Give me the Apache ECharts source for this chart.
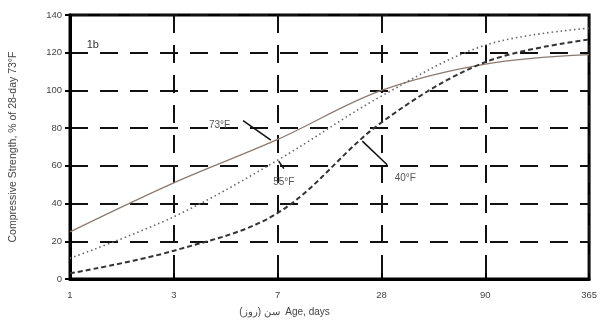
<!DOCTYPE html>
<html>
<head>
<meta charset="utf-8">
<script src="https://cdn.jsdelivr.net/npm/echarts@6/dist/echarts.min.js"></script>
<style>
  html, body { margin: 0; padding: 0; background: #fff; }
  #chart { width: 600px; height: 322px; }
</style>
</head>
<body>
<div id="chart"></div>
<script>
// Age at test (days), shown at evenly spaced positions
const ageTicks = ['1', '3', '7', '28', '90', '365'];
const agePos = [0, 1, 2, 3, 4, 5];

// Compressive strength, % of 28-day strength cured at 73°F
const strength73F = [25, 51, 74, 100, 114, 119];
const strength55F = [11, 33, 63, 97, 124, 133];
const strength40F = [3, 15, 35, 83, 115, 127];

const yTicks = [0, 20, 40, 60, 80, 100, 120, 140];

const pairs = vals => vals.map((v, i) => [agePos[i], v]);

const chart = echarts.init(document.getElementById('chart'), null, { renderer: 'canvas' });
const font = 'Liberation Sans, Arial, sans-serif';
const dashGrid = { color: '#111', width: 2, type: [18, 12] };

chart.setOption({
  animation: false,
  backgroundColor: '#fff',
  grid: { left: 68, right: 10, top: 15, bottom: 39, show: true, borderColor: '#000', borderWidth: 3 },
  xAxis: {
    type: 'value', min: 0, max: 5, interval: 1,
    name: 'سن (روز)  Age, days', nameLocation: 'middle', nameGap: 28,
    nameTextStyle: { fontFamily: font, fontSize: 10, color: '#444', padding: [0, 90, 0, 0] },
    axisLine: { show: true, lineStyle: { color: '#000', width: 3 } },
    axisTick: { show: true, inside: true, length: 6, lineStyle: { color: '#000', width: 2 } },
    axisLabel: { fontFamily: font, fontSize: 9.5, color: '#444', margin: 11,
      formatter: v => ageTicks[agePos.indexOf(v)] ?? '' },
    splitLine: { show: true, lineStyle: dashGrid }
  },
  yAxis: {
    type: 'value', min: 0, max: 140, interval: 20,
    name: 'Compressive Strength, % of 28-day 73°F', nameLocation: 'middle', nameGap: 51,
    nameRotate: 90,
    nameTextStyle: { fontFamily: font, fontSize: 10.5, color: '#444' },
    axisLine: { show: true, lineStyle: { color: '#000', width: 3 } },
    axisTick: { show: true, length: 5, lineStyle: { color: '#000', width: 2 } },
    axisLabel: { fontFamily: font, fontSize: 9.5, color: '#444', margin: 8,
      formatter: v => yTicks.includes(v) ? String(v) : '' },
    splitLine: { show: true, lineStyle: dashGrid }
  },
  series: [
    {
      name: '73°F', type: 'line', data: pairs(strength73F), smooth: 0.35,
      symbol: 'none', lineStyle: { color: '#8a7a72', width: 1.3, type: 'solid' },
      markPoint: {
        symbol: 'circle', symbolSize: 0,
        label: { show: true, position: 'inside', fontFamily: font, fontSize: 10, color: '#555' },
        data: [
          { coord: [1.44, 81.5], value: '73°F' },
          { coord: [0.22, 124], value: '1b', label: { fontSize: 11, color: '#333' } }
        ]
      },
      markLine: {
        silent: true, symbol: 'none', label: { show: false },
        lineStyle: { color: '#111', width: 1.5, type: 'solid' },
        data: [[{ coord: [1.667, 84] }, { coord: [1.935, 73.7] }]]
      }
    },
    {
      name: '55°F', type: 'line', data: pairs(strength55F), smooth: 0.35,
      symbol: 'none', lineStyle: { color: '#666', width: 1.6, type: [1.5, 3] },
      markPoint: {
        symbol: 'circle', symbolSize: 0,
        label: { show: true, position: 'inside', fontFamily: font, fontSize: 10, color: '#555' },
        data: [{ coord: [2.06, 51.5], value: '55°F' }]
      },
      markLine: {
        silent: true, symbol: 'none', label: { show: false },
        lineStyle: { color: '#111', width: 1.5, type: 'solid' },
        data: [[{ coord: [2.06, 58.5] }, { coord: [2.01, 62.5] }]]
      }
    },
    {
      name: '40°F', type: 'line', data: pairs(strength40F), smooth: 0.35,
      symbol: 'none', lineStyle: { color: '#333', width: 2, type: [5, 3] },
      markPoint: {
        symbol: 'circle', symbolSize: 0,
        label: { show: true, position: 'inside', fontFamily: font, fontSize: 10, color: '#555' },
        data: [{ coord: [3.23, 53.3], value: '40°F' }]
      },
      markLine: {
        silent: true, symbol: 'none', label: { show: false },
        lineStyle: { color: '#111', width: 1.5, type: 'solid' },
        data: [[{ coord: [3.055, 60.6] }, { coord: [2.816, 73.1] }]]
      }
    }
  ]
});
</script>
</body>
</html>
